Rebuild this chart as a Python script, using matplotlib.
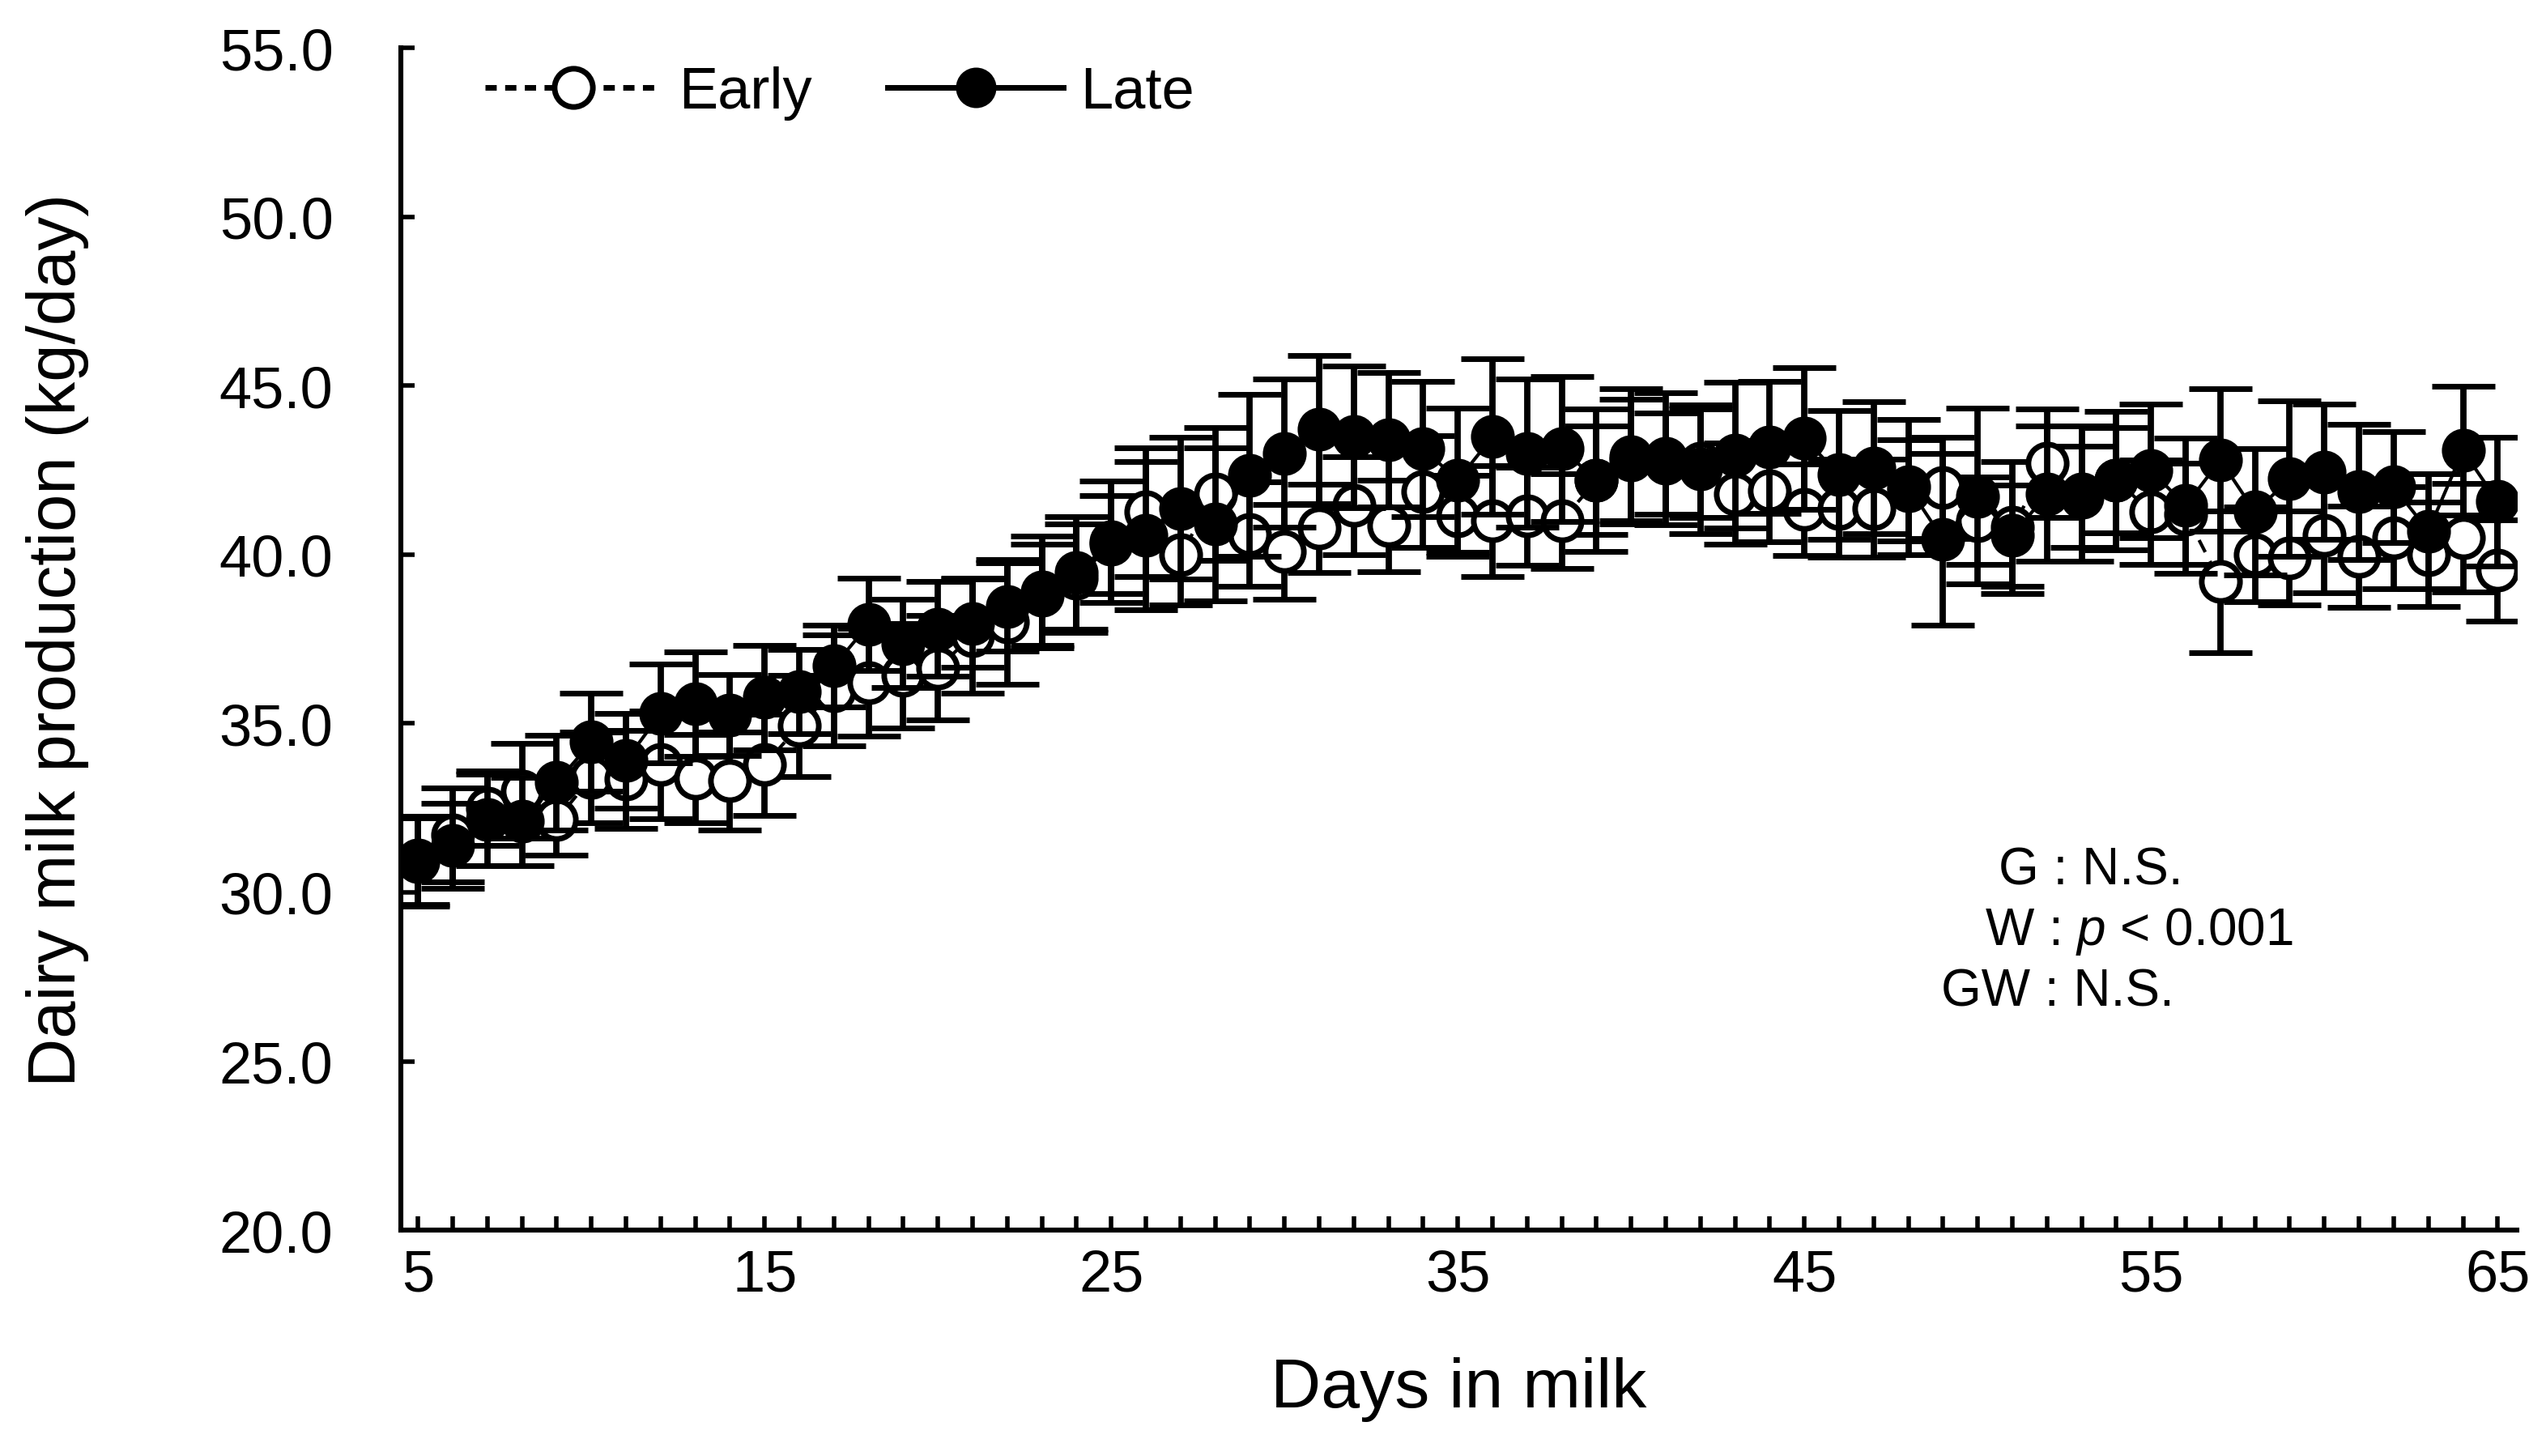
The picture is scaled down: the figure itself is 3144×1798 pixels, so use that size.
import matplotlib
matplotlib.use("Agg")
import matplotlib.pyplot as plt
from matplotlib.lines import Line2D
from matplotlib.ticker import MultipleLocator, FormatStrFormatter

plt.rcParams['font.family'] = ['Liberation Sans', 'DejaVu Sans']
plt.rcParams['mathtext.fontset'] = 'custom'
plt.rcParams['mathtext.rm'] = 'Liberation Sans'
plt.rcParams['mathtext.it'] = 'Liberation Sans:italic'

# days in milk
days = list(range(5, 66))

# Early group: mean and SE (kg/day)
early = [30.9, 31.7, 32.5, 33.0, 32.15, 33.4, 33.35, 33.78, 33.37, 33.3,
         33.78, 34.93, 35.98, 36.22, 36.42, 36.65, 37.6, 38.0, 38.8, 39.3,
         40.3, 41.26, 40.0, 41.8, 40.6, 40.08, 40.78, 41.45, 40.85, 41.86,
         41.14, 41.0, 41.14, 41.0, 42.2, 42.8, 42.7, 42.7, 41.8, 41.88,
         41.33, 41.37, 41.37, 41.9, 41.98, 41.0, 40.8, 42.7, 41.7, 42.2,
         41.26, 41.2, 39.2, 40.0, 39.9, 40.56, 39.94, 40.5, 40.0, 40.5,
         39.53]
early_se = [1.3, 1.4, 1.1, 1.4, 1.05, 1.35, 1.45, 1.6, 1.3, 1.45,
            1.5, 1.5, 1.65, 1.6, 1.55, 1.55, 1.7, 1.85, 1.5, 1.6,
            1.45, 1.9, 1.5, 1.97, 1.55, 1.4, 1.3, 1.45, 1.35, 1.65,
            1.2, 1.64, 1.45, 1.4, 1.6, 1.8, 1.5, 1.6, 1.5, 1.5,
            1.35, 1.45, 1.45, 1.5, 1.5, 1.3, 1.95, 1.6, 1.5, 1.55,
            1.55, 1.5, 2.1, 1.4, 1.4, 1.7, 1.5, 1.5, 1.55, 1.6,
            1.5]

# Late group: mean and SE (kg/day)
late = [30.95, 31.38, 32.15, 32.1, 33.25, 34.45, 33.9, 35.3, 35.58, 35.26,
        35.77, 35.94, 36.7, 37.93, 37.37, 37.8, 37.97, 38.45, 38.9, 39.46,
        40.37, 40.56, 41.37, 40.9, 42.34, 43.0, 43.7, 43.49, 43.4, 43.13,
        42.2, 43.49, 43.0, 43.13, 42.2, 42.9, 42.84, 42.53, 42.94, 43.18,
        43.44, 42.36, 42.57, 42.0, 40.45, 41.73, 40.56, 41.8, 41.8, 42.2,
        42.48, 41.45, 42.8, 41.26, 42.24, 42.45, 41.86, 42.0, 40.7, 43.08,
        41.57]
late_se = [1.3, 1.25, 1.35, 1.3, 1.4, 1.45, 1.4, 1.47, 1.55, 1.2,
           1.55, 1.25, 1.2, 1.37, 1.3, 1.4, 1.3, 1.3, 1.65, 1.67,
           1.8, 2.2, 2.1, 2.27, 2.4, 2.2, 2.2, 2.1, 2.0, 2.0,
           2.13, 2.3, 2.2, 2.15, 2.1, 2.0, 1.95, 1.9, 2.15, 1.95,
           2.1, 1.9, 1.95, 2.0, 2.55, 2.6, 1.5, 2.0, 2.0, 2.05,
           1.97, 2.0, 2.1, 1.87, 2.3, 2.0, 2.0, 1.65, 1.7, 1.9,
           1.9]

stats_lines = ["G : N.S.", "W : $p$ < 0.001", "GW : N.S."]

fig = plt.figure(figsize=(15.72, 8.995), dpi=200)
ax = fig.add_axes([0.1574, 0.155, 0.8311, 0.8116])

common = dict(color='black', ecolor='black', ms=17, mew=2.5,
              elinewidth=2.8, capsize=14, capthick=2.8)
ax.errorbar(days, early, yerr=early_se, fmt='o', ls=(0, (4, 3)), lw=1.5,
            mfc='white', mec='black', zorder=2, **common)
ax.errorbar(days, late, yerr=late_se, fmt='o', ls='-', lw=1.5,
            mfc='black', mec='black', zorder=3, **common)

ax.set_xlim(4.5, 65.55)
ax.set_ylim(20, 55)
ax.xaxis.set_minor_locator(MultipleLocator(1))
ax.yaxis.set_major_locator(MultipleLocator(5))
ax.yaxis.set_major_formatter(FormatStrFormatter('%.1f'))
ax.tick_params(axis='both', which='both', direction='in', width=2, length=6,
               labelsize=26)
ax.tick_params(axis='x', pad=8)
ax.tick_params(axis='y', pad=30)
# ticks at 5, 15, ... 65
ax.set_xticks(list(range(5, 66, 10)))

for s in ['top', 'right']:
    ax.spines[s].set_visible(False)
for s in ['left', 'bottom']:
    ax.spines[s].set_linewidth(2.2)

ax.set_xlabel('Days in milk', fontsize=31, labelpad=24)
ax.set_ylabel('Dairy milk production (kg/day)', fontsize=30, labelpad=58)

handles = [
    Line2D([], [], color='black', ls=(0, (2, 1.5)), lw=2.5, marker='o', ms=17,
           mfc='white', mec='black', mew=2.5),
    Line2D([], [], color='black', ls='-', lw=2.5, marker='o', ms=17,
           mfc='black', mec='black'),
]
ax.legend(handles, ['Early', 'Late'], loc='upper left', ncol=2, frameon=False,
          fontsize=26, handlelength=3.0, handletextpad=0.3, columnspacing=1.3,
          borderpad=0, borderaxespad=0, bbox_to_anchor=(0.04, 0.985))

ax.text(50.6, 30.65, stats_lines[0], fontsize=23, va='center', ha='left')
ax.text(50.2, 28.86, stats_lines[1], fontsize=23, va='center', ha='left')
ax.text(48.95, 27.06, stats_lines[2], fontsize=23, va='center', ha='left')

fig.savefig('out.png', dpi=200)
